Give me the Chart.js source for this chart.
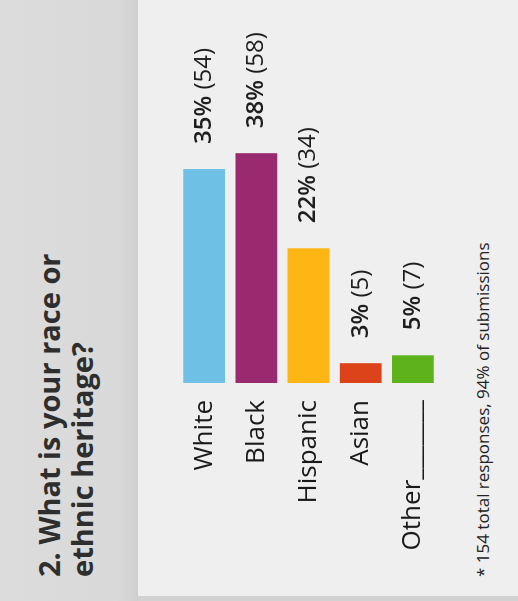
<!DOCTYPE html>
<html>
<head>
<meta charset="utf-8">
<script src="https://cdn.jsdelivr.net/npm/chart.js@4/dist/chart.umd.min.js"></script>
<style>
  html, body { margin: 0; padding: 0; }
  body { width: 518px; height: 601px; overflow: hidden; background: #d4d4d4; position: relative; }
  /* the card is laid out sideways and turned a quarter turn counter-clockwise */
  #card {
    position: absolute; left: 0; top: 0; width: 601px; height: 518px;
    transform-origin: 0 0; transform: translate(0, 601px) rotate(-90deg);
    background: #d2d2d2; font-family: "Open Sans", sans-serif;
  }
  #band {
    position: absolute; left: 0; top: 0; width: 601px; height: 138px;
    background: linear-gradient(to bottom, #dcdcdc 0%, #d9d9d9 85%, #cfcfcf 100%);
  }
  #panel {
    position: absolute; left: 5px; top: 138px; width: 596px; height: 380px;
    background: #efefef;
  }
  #title {
    position: absolute; left: 24px; top: 32px; margin: 0;
    font-size: 29px; line-height: 33px; font-weight: 700; color: #2e2e2e;
  }
  #note {
    position: absolute; left: 24px; top: 474px; margin: 0;
    font-size: 17px; line-height: 17px; color: #222;
  }
  #chart { position: absolute; left: 0; top: 0; }
</style>
</head>
<body>
<div id="card">
  <div id="band"></div>
  <div id="panel"></div>
  <h2 id="title">2. What is your race or<br>ethnic heritage?</h2>
  <p id="note">* 154 total responses, 94% of submissions</p>
  <canvas id="chart" width="601" height="518"></canvas>
</div>
<script>
const categories = ['White', 'Black', 'Hispanic', 'Asian', 'Other_______'];
const counts = [54, 58, 34, 5, 7];
const percents = [35, 38, 22, 3, 5];
const barColors = ['#6ec1e5', '#992a70', '#fdb614', '#dd431a', '#5eb31c'];

// writes "35% (54)" just past the end of each bar, percent a bit heavier
const valueLabels = {
    id: 'valueLabels',
    afterDatasetsDraw(chart) {
        const ctx = chart.ctx;
        const meta = chart.getDatasetMeta(0);
        ctx.save();
        ctx.fillStyle = '#1e1e1e';
        ctx.textAlign = 'left';
        ctx.textBaseline = 'middle';
        meta.data.forEach((bar, i) => {
            const pct = percents[i] + '% ';
            let x = bar.x + 25;
            ctx.font = '600 24px "Open Sans", sans-serif';
            ctx.fillText(pct, x, bar.y);
            x += ctx.measureText(pct).width;
            ctx.font = '24px "Open Sans", sans-serif';
            ctx.fillText('(' + counts[i] + ')', x, bar.y);
        });
        ctx.restore();
    }
};

new Chart(document.getElementById('chart'), {
    type: 'bar',
    data: {
        labels: categories,
        datasets: [{
            data: counts,
            backgroundColor: barColors,
            borderWidth: 0,
            barPercentage: 0.8,
            categoryPercentage: 1.0
        }]
    },
    options: {
        indexAxis: 'y',
        responsive: false,
        animation: false,
        layout: { padding: { top: 178, bottom: 79, left: 0, right: 66 } },
        plugins: { legend: { display: false }, tooltip: { enabled: false } },
        scales: {
            x: { display: false, min: 0, max: 80 },
            y: {
                grid: { display: false, drawTicks: false },
                border: { display: false },
                ticks: {
                    padding: 17,
                    color: '#1a1a1a',
                    font: { family: '"Open Sans", sans-serif', size: 26 }
                },
                afterFit(scale) { scale.width = 218; }
            }
        }
    },
    plugins: [valueLabels]
});
</script>
</body>
</html>
